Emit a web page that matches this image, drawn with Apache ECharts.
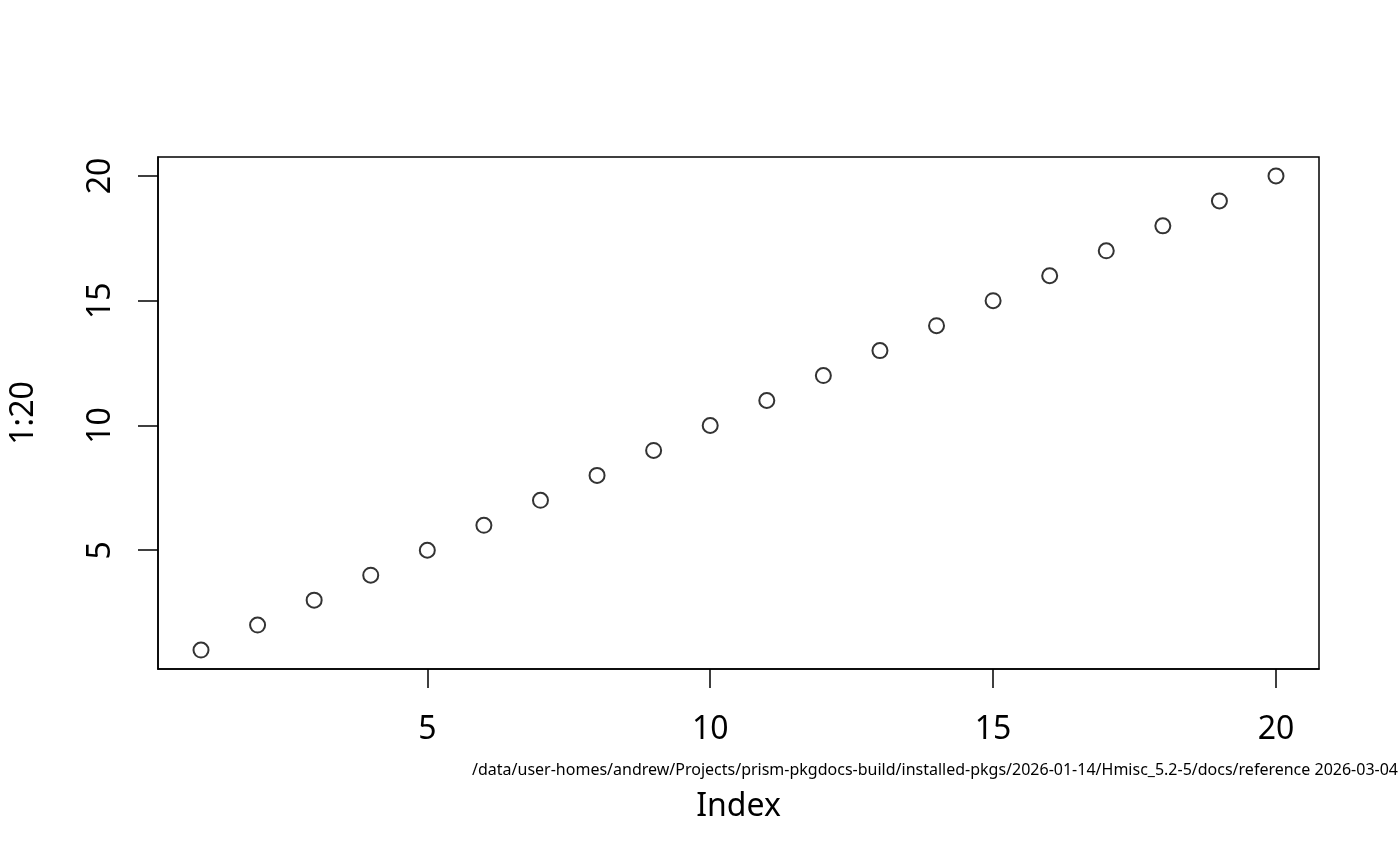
<!DOCTYPE html>
<html>
<head>
<meta charset="utf-8">
<script src="https://cdn.jsdelivr.net/npm/echarts@6/dist/echarts.min.js"></script>
<style>
  html, body { margin: 0; padding: 0; background: #fff; }
  #main { width: 1400px; height: 866px; }
</style>
</head>
<body>
<div id="main"></div>
<script>
// data
var index = [1, 2, 3, 4, 5, 6, 7, 8, 9, 10, 11, 12, 13, 14, 15, 16, 17, 18, 19, 20];
var values = [1, 2, 3, 4, 5, 6, 7, 8, 9, 10, 11, 12, 13, 14, 15, 16, 17, 18, 19, 20];
var xTicks = [5, 10, 15, 20];
var yTicks = [5, 10, 15, 20];
var footer = '/data/user-homes/andrew/Projects/prism-pkgdocs-build/installed-pkgs/2026-01-14/Hmisc_5.2-5/docs/reference 2026-03-04';

var font = 'Noto Sans';
var points = index.map(function (x, i) { return [x, values[i]]; });

var chart = echarts.init(document.getElementById('main'));
chart.setOption({
  backgroundColor: '#fff',
  animation: false,
  textStyle: { fontFamily: font },
  grid: {
    left: 157, right: 81, top: 157, bottom: 197,
    show: true, borderColor: '#000', borderWidth: 1.5, backgroundColor: 'transparent'
  },
  xAxis: {
    type: 'value', min: 0.24, max: 20.76,
    name: 'Index', nameLocation: 'middle', nameGap: 122,
    nameTextStyle: { fontSize: 32, color: '#000', fontFamily: font },
    axisLine: { show: true, lineStyle: { color: '#000', width: 1.5 } },
    axisTick: { show: true, customValues: xTicks, length: 19, lineStyle: { color: '#000', width: 1.5 } },
    axisLabel: { customValues: xTicks, margin: 45, fontSize: 32, color: '#000', fontFamily: font },
    splitLine: { show: false }
  },
  yAxis: {
    type: 'value', min: 0.24, max: 20.76,
    name: '1:20', nameLocation: 'middle', nameGap: 118, nameRotate: 90,
    nameTextStyle: { fontSize: 32, color: '#000', fontFamily: font },
    axisLine: { show: true, lineStyle: { color: '#000', width: 1.5 } },
    axisTick: { show: true, customValues: yTicks, length: 20, lineStyle: { color: '#000', width: 1.5 } },
    axisLabel: { customValues: yTicks, rotate: 90, margin: 57, fontSize: 32, color: '#000', fontFamily: font,
      align: 'center', verticalAlign: 'middle' },
    splitLine: { show: false }
  },
  series: [{
    type: 'scatter',
    data: points,
    symbol: 'circle',
    symbolSize: 15,
    itemStyle: { color: 'transparent', borderColor: '#000', borderWidth: 2 },
    emphasis: { disabled: true }
  }],
  graphic: [{
    type: 'text',
    right: 2, top: 762,
    style: { text: footer, font: '16px "Noto Sans"', fill: '#000' }
  }]
});
</script>
</body>
</html>
